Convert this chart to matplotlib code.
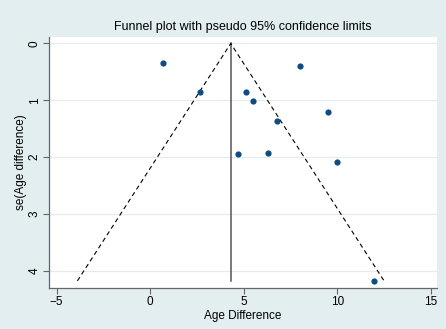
import matplotlib
matplotlib.use("Agg")
import matplotlib.pyplot as plt
import numpy as np

# Data
effect = [0.68, 2.66, 8.0, 5.09, 5.50, 6.78, 9.52, 4.68, 6.28, 9.97, 11.97]
se = [0.34, 0.86, 0.39, 0.85, 1.02, 1.37, 1.21, 1.94, 1.92, 2.08, 4.18]
pooled = 4.30
x_ticks = [-5, 0, 5, 10, 15]
y_ticks = [0, 1, 2, 3, 4]
title = "Funnel plot with pseudo 95% confidence limits"
xlabel = "Age Difference"
ylabel = "se(Age difference)"

plt.rcParams['font.family'] = ['Liberation Sans', 'DejaVu Sans']

bg = "#E2EEF0"
fig = plt.figure(figsize=(4.46, 3.29), dpi=100, facecolor=bg)
ax = fig.add_axes([49/446, 1-288/329, (437-49)/446, (288-37)/329])
ax.set_facecolor("white")

maxse = max(se)
ax.plot([pooled, pooled], [0, maxse], color="#555555", lw=1.1, zorder=2)
ax.plot([pooled - 1.96*maxse, pooled, pooled + 1.96*maxse], [maxse, 0, maxse],
        color="black", lw=0.8, ls=(0, (4, 3)), zorder=2)
ax.scatter(effect, se, s=20, color="#0F4C81", zorder=3, linewidths=0)

ax.set_xlim(-5.41, 15.32)
ax.set_ylim(4.305, -0.114)
ax.set_xticks(x_ticks)
ax.set_yticks(y_ticks)
ax.set_yticklabels([str(t) for t in y_ticks], rotation=90, va="center")
ax.grid(axis="y", color="#E3ECEF", lw=0.9)
ax.set_axisbelow(True)

for s in ["top", "right"]:
    ax.spines[s].set_visible(False)
for s in ["left", "bottom"]:
    ax.spines[s].set_color("#666666")
    ax.spines[s].set_linewidth(0.9)
ax.tick_params(colors="#666666", labelcolor="black", length=4, width=0.8,
               labelsize=8.5, pad=2)

ax.set_title(title, fontsize=9, pad=5)
ax.set_xlabel(xlabel, fontsize=8.5, labelpad=1)
ax.set_ylabel(ylabel, fontsize=8.5)
ax.yaxis.set_label_coords(-0.056, 0.5)

fig.savefig("out.png", dpi=100, facecolor=bg)
